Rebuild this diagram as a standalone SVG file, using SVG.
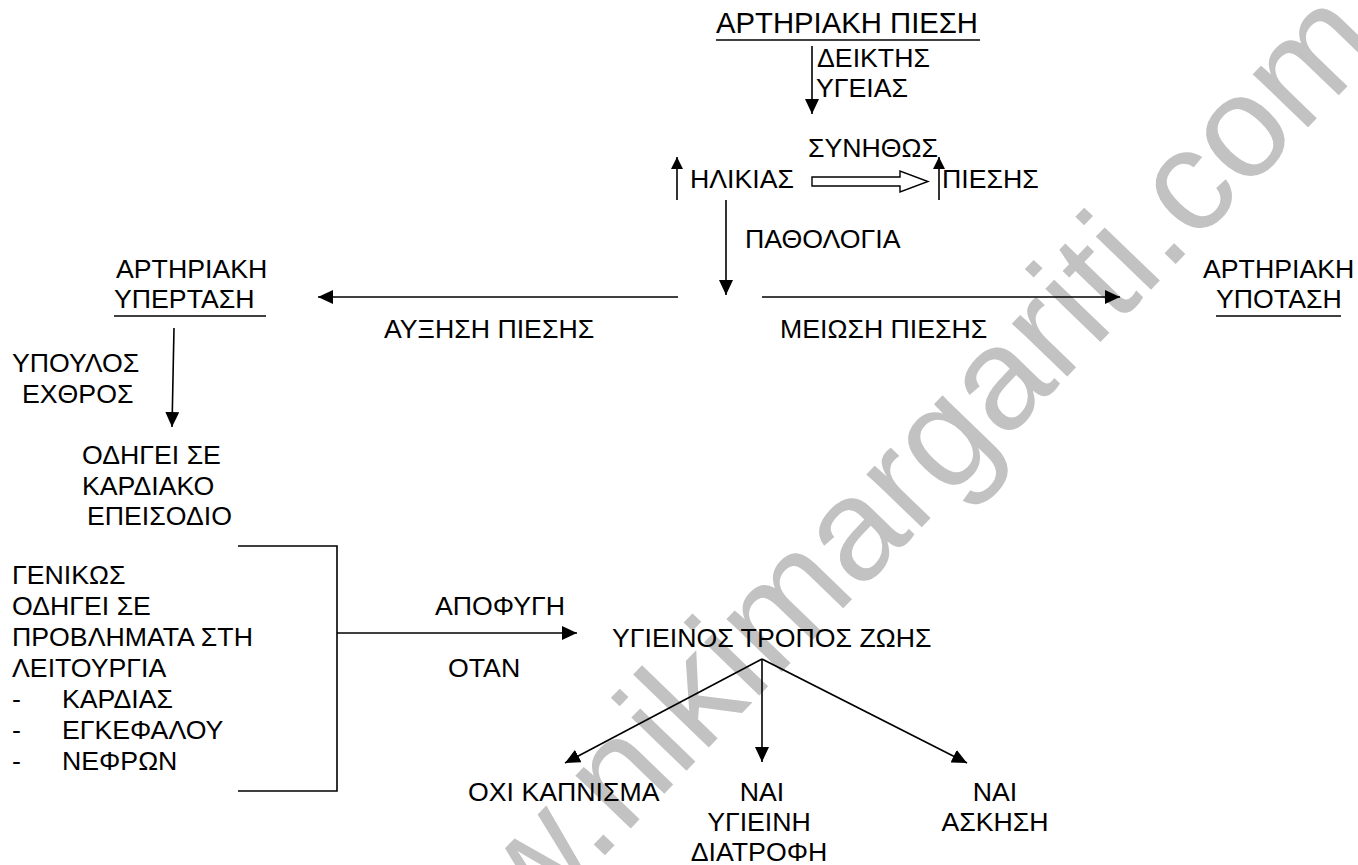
<svg xmlns="http://www.w3.org/2000/svg" width="1358" height="865" viewBox="0 0 1358 865">
<style>
text{font-family:"Liberation Sans",Arial,sans-serif;font-size:26.7px;fill:#000}
.t{font-size:29px}
.wm{font-size:145px;fill:#c2c2c2}
.ln{stroke:#000;stroke-width:1.6;fill:none}
.ul{stroke:#000;stroke-width:1.6}
</style>
<defs>
<marker id="ah" markerUnits="userSpaceOnUse" markerWidth="16" markerHeight="14" refX="15" refY="7" orient="auto">
<path d="M0,0 L15,7 L0,14 z" fill="#000"/>
</marker>
<marker id="ahs" markerUnits="userSpaceOnUse" markerWidth="13" markerHeight="12" refX="12" refY="6" orient="auto">
<path d="M0,0 L12,6 L0,12 z" fill="#000"/>
</marker>
</defs>
<rect width="1358" height="865" fill="#fff"/>
<text class="wm" transform="translate(383,1085) rotate(-46)">www.nikimargariti.com</text>

<g id="connectors">
<line class="ln" x1="812" y1="46" x2="812" y2="114" marker-end="url(#ah)"/>
<line class="ln" x1="677" y1="200" x2="677" y2="157" marker-end="url(#ahs)"/>
<line class="ln" x1="939" y1="200" x2="939" y2="157" marker-end="url(#ahs)"/>
<polygon points="812,177 900,177 900,171 928,181.5 900,192 900,186 812,186" fill="#fff" stroke="#000" stroke-width="1.4"/>
<line class="ln" x1="726" y1="200" x2="726" y2="295" marker-end="url(#ah)"/>
<line class="ln" x1="678" y1="297" x2="318" y2="297" marker-end="url(#ah)"/>
<line class="ln" x1="762" y1="297" x2="1120" y2="297" marker-end="url(#ah)"/>
<line class="ln" x1="174" y1="328" x2="172" y2="427" marker-end="url(#ah)"/>
<polyline class="ln" points="238,546 337,546 337,791 238,791"/>
<line class="ln" x1="337" y1="633" x2="577" y2="633" marker-end="url(#ah)"/>
<line class="ln" x1="762" y1="659" x2="565" y2="763" marker-end="url(#ah)"/>
<line class="ln" x1="762" y1="659" x2="762" y2="762" marker-end="url(#ah)"/>
<line class="ln" x1="762" y1="659" x2="967" y2="763" marker-end="url(#ah)"/>
</g>

<g id="n-title">
<text class="t" x="716" y="33" textLength="262" lengthAdjust="spacingAndGlyphs">ΑΡΤΗΡΙΑΚΗ ΠΙΕΣΗ</text>
<line class="ul" x1="716" y1="40" x2="980" y2="40"/>
</g>
<g id="l-deiktis">
<text x="817" y="67">ΔΕΙΚΤΗΣ</text>
<text x="816" y="97">ΥΓΕΙΑΣ</text>
</g>
<g id="l-synithos"><text x="808" y="157">ΣΥΝΗΘΩΣ</text></g>
<g id="n-ilikia"><text x="690" y="188">ΗΛΙΚΙΑΣ</text></g>
<g id="n-piesis"><text x="942" y="188">ΠΙΕΣΗΣ</text></g>
<g id="l-pathologia"><text x="745" y="248">ΠΑΘΟΛΟΓΙΑ</text></g>
<g id="n-yperthasi">
<text x="116" y="278">ΑΡΤΗΡΙΑΚΗ</text>
<text x="114" y="308">ΥΠΕΡΤΑΣΗ</text>
<line class="ul" x1="114" y1="316" x2="266" y2="316"/>
</g>
<g id="n-ypotasi">
<text x="1203" y="278">ΑΡΤΗΡΙΑΚΗ</text>
<text x="1216" y="308">ΥΠΟΤΑΣΗ</text>
<line class="ul" x1="1216" y1="316" x2="1341" y2="316"/>
</g>
<g id="l-afxisi"><text x="384" y="338">ΑΥΞΗΣΗ ΠΙΕΣΗΣ</text></g>
<g id="l-meiosi"><text x="780" y="338">ΜΕΙΩΣΗ ΠΙΕΣΗΣ</text></g>
<g id="l-ypoulos">
<text x="12" y="372">ΥΠΟΥΛΟΣ</text>
<text x="22" y="403">ΕΧΘΡΟΣ</text>
</g>
<g id="n-kardiako">
<text x="82" y="464">ΟΔΗΓΕΙ ΣΕ</text>
<text x="82" y="495">ΚΑΡΔΙΑΚΟ</text>
<text x="87" y="525">ΕΠΕΙΣΟΔΙΟ</text>
</g>
<g id="n-genikos">
<text x="12" y="584">ΓΕΝΙΚΩΣ</text>
<text x="12" y="615">ΟΔΗΓΕΙ ΣΕ</text>
<text x="12" y="646">ΠΡΟΒΛΗΜΑΤΑ ΣΤΗ</text>
<text x="12" y="677">ΛΕΙΤΟΥΡΓΙΑ</text>
<text x="12" y="708">-</text><text x="62" y="708">ΚΑΡΔΙΑΣ</text>
<text x="12" y="739">-</text><text x="62" y="739">ΕΓΚΕΦΑΛΟΥ</text>
<text x="12" y="770">-</text><text x="62" y="770">ΝΕΦΡΩΝ</text>
</g>
<g id="l-apofygi">
<text x="435" y="615">ΑΠΟΦΥΓΗ</text>
<text x="448" y="677">ΟΤΑΝ</text>
</g>
<g id="n-tropos"><text x="612" y="647">ΥΓΙΕΙΝΟΣ ΤΡΟΠΟΣ ΖΩΗΣ</text></g>
<g id="n-kapnisma"><text x="468" y="801">ΟΧΙ ΚΑΠΝΙΣΜΑ</text></g>
<g id="n-diatrofi">
<text x="762" y="801" text-anchor="middle">ΝΑΙ</text>
<text x="759" y="831" text-anchor="middle">ΥΓΙΕΙΝΗ</text>
<text x="759" y="861" text-anchor="middle">ΔΙΑΤΡΟΦΗ</text>
</g>
<g id="n-askisi">
<text x="995" y="801" text-anchor="middle">ΝΑΙ</text>
<text x="995" y="831" text-anchor="middle">ΑΣΚΗΣΗ</text>
</g>
</svg>
